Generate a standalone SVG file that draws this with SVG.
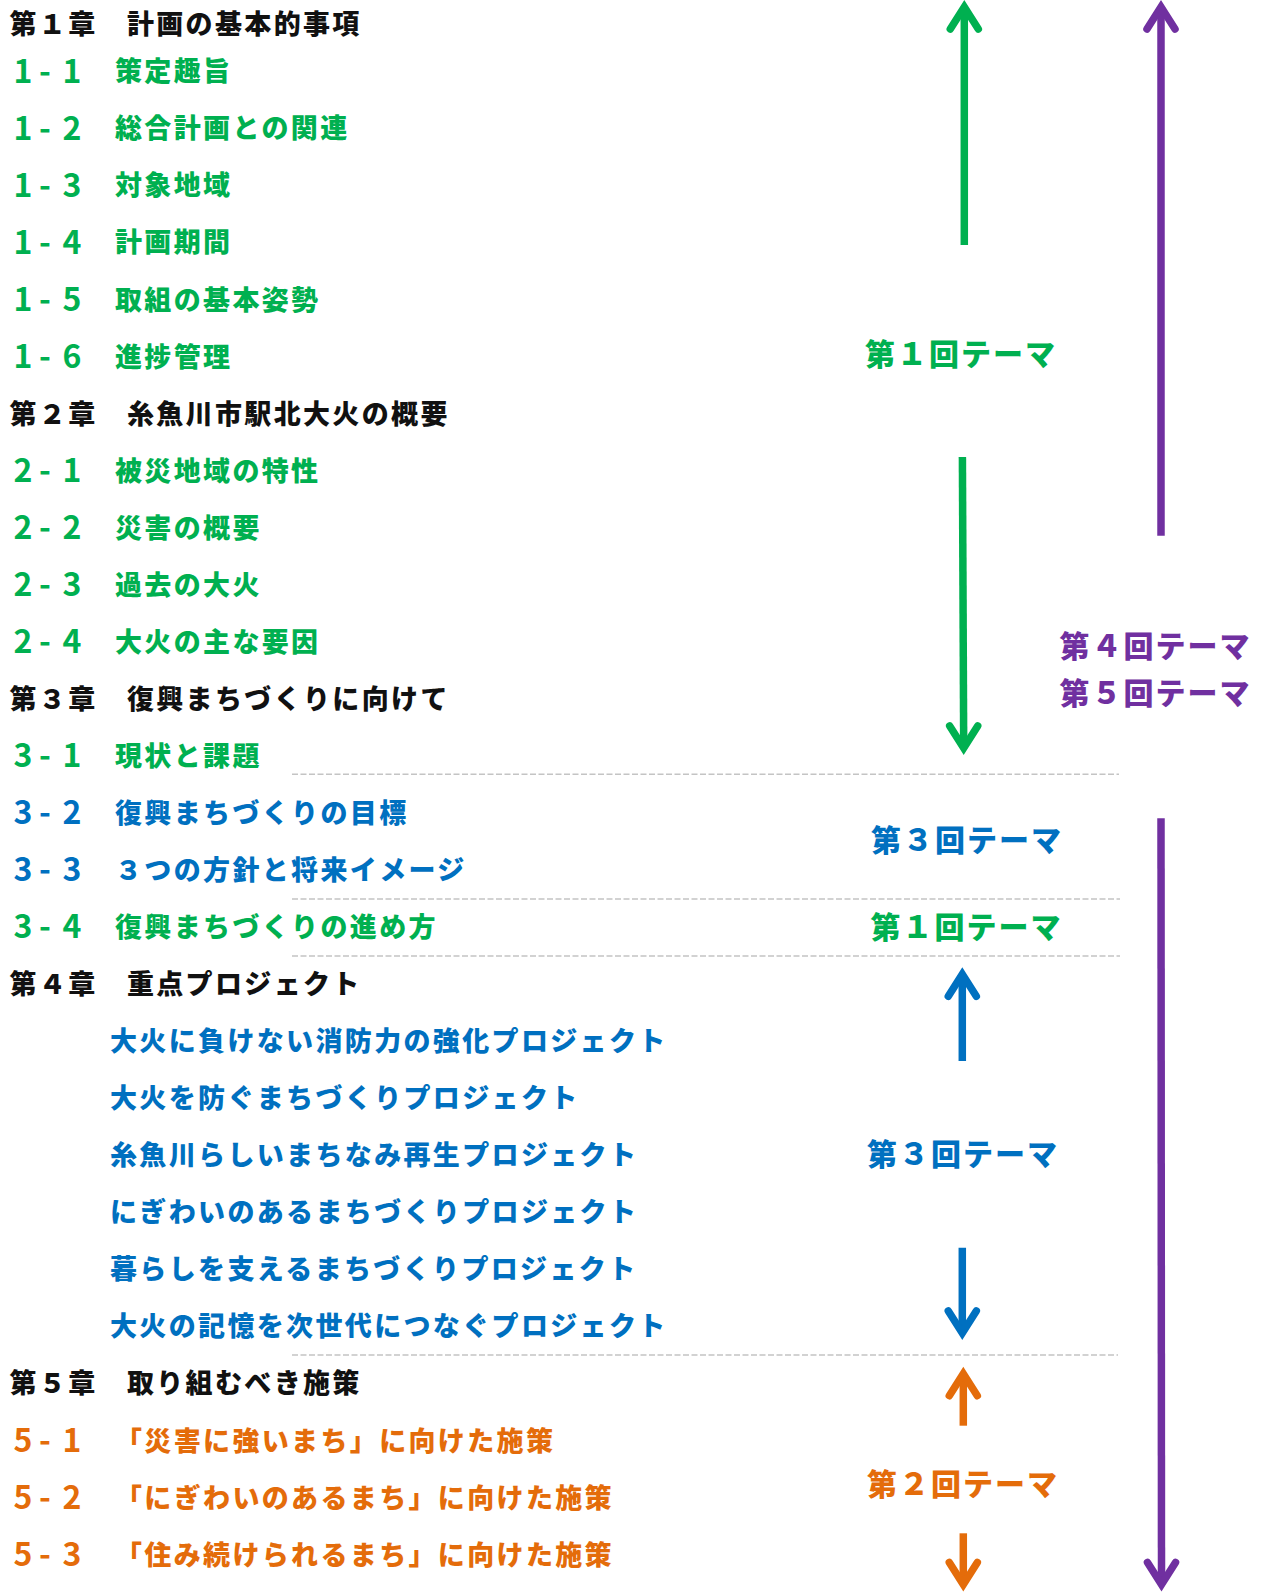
<svg xmlns="http://www.w3.org/2000/svg" width="1265" height="1592" viewBox="0 0 1265 1592">
<style>
text{font-family:"Noto Sans CJK JP","Noto Sans",sans-serif;font-weight:900}
.t{font-size:27px;letter-spacing:2.35px}
.n{font-size:32px;text-anchor:middle;font-weight:700}
.lb{font-size:30px;letter-spacing:2px}
.k{fill:#111}
.g{fill:#00B050}
.b{fill:#0070C0}
.o{fill:#E46C0A}
.p{fill:#7030A0}
.dash{stroke:#c4c4c4;stroke-width:1.5;stroke-dasharray:6 2.5;fill:none}
.ar{fill:none;stroke-width:7.5}
.ar .head{stroke-linecap:round;stroke-linejoin:miter}
.sg{stroke:#00B050}.sb{stroke:#0070C0}.so{stroke:#E46C0A}.sp{stroke:#7030A0}
</style>
<rect width="1265" height="1592" fill="#fff"/>

<g id="connectors">
  <line class="dash" x1="292" y1="774.3" x2="1119" y2="774.3"/>
  <line class="dash" x1="292" y1="899" x2="1120" y2="899"/>
  <line class="dash" x1="292" y1="956" x2="1120" y2="956"/>
  <line class="dash" x1="292" y1="1355" x2="1118" y2="1355"/>
  <g class="ar sg">
    <line x1="964.3" y1="245" x2="964.3" y2="7"/>
    <path class="head" d="M950.3,29 L964.3,7 L978.3,29"/>
  </g>
  <g class="ar sp">
    <line x1="1161" y1="535.7" x2="1161" y2="7"/>
    <path class="head" d="M1147,29 L1161,7 L1175,29"/>
  </g>
  <g class="ar sg">
    <line x1="962.4" y1="457" x2="963.7" y2="748"/>
    <path class="head" d="M949.7,726 L963.7,748 L977.7,726"/>
  </g>
  <g class="ar sb">
    <line x1="962.3" y1="1061" x2="962.3" y2="974.3"/>
    <path class="head" d="M948.3,996.3 L962.3,974.3 L976.3,996.3"/>
  </g>
  <g class="ar sb">
    <line x1="962.3" y1="1247.7" x2="962.3" y2="1333"/>
    <path class="head" d="M948.3,1311 L962.3,1333 L976.3,1311"/>
  </g>
  <g class="ar so">
    <line x1="963.3" y1="1425.7" x2="963.3" y2="1373.7"/>
    <path class="head" d="M949.3,1395.7 L963.3,1373.7 L977.3,1395.7"/>
  </g>
  <g class="ar so">
    <line x1="963.3" y1="1533.3" x2="963.3" y2="1584.5"/>
    <path class="head" d="M949.3,1562.5 L963.3,1584.5 L977.3,1562.5"/>
  </g>
  <g class="ar sp">
    <line x1="1161" y1="818.3" x2="1161.5" y2="1584.5"/>
    <path class="head" d="M1147.5,1562.5 L1161.5,1584.5 L1175.5,1562.5"/>
  </g>
</g>

<g id="ch1" transform="translate(0,23.5)"><text class="t k" x="9.5" y="10.3">第１章　計画の基本的事項</text></g>
<g id="s1-1" transform="translate(0,71)"><text class="n g" x="23 45 72" y="11.7">1-1</text><text class="t g" x="115" y="10.3">策定趣旨</text></g>
<g id="s1-2" transform="translate(0,128.05)"><text class="n g" x="23 45 72" y="11.7">1-2</text><text class="t g" x="115" y="10.3">総合計画との関連</text></g>
<g id="s1-3" transform="translate(0,185.1)"><text class="n g" x="23 45 72" y="11.7">1-3</text><text class="t g" x="115" y="10.3">対象地域</text></g>
<g id="s1-4" transform="translate(0,242.15)"><text class="n g" x="23 45 72" y="11.7">1-4</text><text class="t g" x="115" y="10.3">計画期間</text></g>
<g id="s1-5" transform="translate(0,299.2)"><text class="n g" x="23 45 72" y="11.7">1-5</text><text class="t g" x="115" y="10.3">取組の基本姿勢</text></g>
<g id="s1-6" transform="translate(0,356.25)"><text class="n g" x="23 45 72" y="11.7">1-6</text><text class="t g" x="115" y="10.3">進捗管理</text></g>
<g id="ch2" transform="translate(0,413.3)"><text class="t k" x="9.5" y="10.3">第２章　糸魚川市駅北大火の概要</text></g>
<g id="s2-1" transform="translate(0,470.35)"><text class="n g" x="23 45 72" y="11.7">2-1</text><text class="t g" x="115" y="10.3">被災地域の特性</text></g>
<g id="s2-2" transform="translate(0,527.4)"><text class="n g" x="23 45 72" y="11.7">2-2</text><text class="t g" x="115" y="10.3">災害の概要</text></g>
<g id="s2-3" transform="translate(0,584.45)"><text class="n g" x="23 45 72" y="11.7">2-3</text><text class="t g" x="115" y="10.3">過去の大火</text></g>
<g id="s2-4" transform="translate(0,641.5)"><text class="n g" x="23 45 72" y="11.7">2-4</text><text class="t g" x="115" y="10.3">大火の主な要因</text></g>
<g id="ch3" transform="translate(0,698.55)"><text class="t k" x="9.5" y="10.3">第３章　復興まちづくりに向けて</text></g>
<g id="s3-1" transform="translate(0,755.6)"><text class="n g" x="23 45 72" y="11.7">3-1</text><text class="t g" x="115" y="10.3">現状と課題</text></g>
<g id="s3-2" transform="translate(0,812.65)"><text class="n b" x="23 45 72" y="11.7">3-2</text><text class="t b" x="115" y="10.3">復興まちづくりの目標</text></g>
<g id="s3-3" transform="translate(0,869.7)"><text class="n b" x="23 45 72" y="11.7">3-3</text><text class="t b" x="115" y="10.3">３つの方針と将来イメージ</text></g>
<g id="s3-4" transform="translate(0,926.75)"><text class="n g" x="23 45 72" y="11.7">3-4</text><text class="t g" x="115" y="10.3">復興まちづくりの進め方</text></g>
<g id="ch4" transform="translate(0,983.8)"><text class="t k" x="9.5" y="10.3">第４章　重点プロジェクト</text></g>
<g id="p1" transform="translate(0,1040.85)"><text class="t b" x="110" y="10.3">大火に負けない消防力の強化プロジェクト</text></g>
<g id="p2" transform="translate(0,1097.9)"><text class="t b" x="110" y="10.3">大火を防ぐまちづくりプロジェクト</text></g>
<g id="p3" transform="translate(0,1154.95)"><text class="t b" x="110" y="10.3">糸魚川らしいまちなみ再生プロジェクト</text></g>
<g id="p4" transform="translate(0,1212)"><text class="t b" x="110" y="10.3">にぎわいのあるまちづくりプロジェクト</text></g>
<g id="p5" transform="translate(0,1269.05)"><text class="t b" x="110" y="10.3">暮らしを支えるまちづくりプロジェクト</text></g>
<g id="p6" transform="translate(0,1326.1)"><text class="t b" x="110" y="10.3">大火の記憶を次世代につなぐプロジェクト</text></g>
<g id="ch5" transform="translate(0,1383.15)"><text class="t k" x="9.5" y="10.3">第５章　取り組むべき施策</text></g>
<g id="s5-1" transform="translate(0,1440.2)"><text class="n o" x="23 45 72" y="11.7">5-1</text><text class="t o" x="115" y="10.3">「災害に強いまち」に向けた施策</text></g>
<g id="s5-2" transform="translate(0,1497.25)"><text class="n o" x="23 45 72" y="11.7">5-2</text><text class="t o" x="115" y="10.3">「にぎわいのあるまち」に向けた施策</text></g>
<g id="s5-3" transform="translate(0,1554.3)"><text class="n o" x="23 45 72" y="11.7">5-3</text><text class="t o" x="115" y="10.3">「住み続けられるまち」に向けた施策</text></g>

<g id="theme1a"><text class="lb g" x="865" y="365.4">第１回テーマ</text></g>
<g id="theme3a"><text class="lb b" x="871" y="851.4">第３回テーマ</text></g>
<g id="theme1b"><text class="lb g" x="870.5" y="938.4">第１回テーマ</text></g>
<g id="theme3b"><text class="lb b" x="867" y="1165.4">第３回テーマ</text></g>
<g id="theme2"><text class="lb o" x="867" y="1495.4">第２回テーマ</text></g>
<g id="theme45"><text class="lb p" x="1059.5" y="657.4">第４回テーマ</text><text class="lb p" x="1059.5" y="703.9">第５回テーマ</text></g>
</svg>
